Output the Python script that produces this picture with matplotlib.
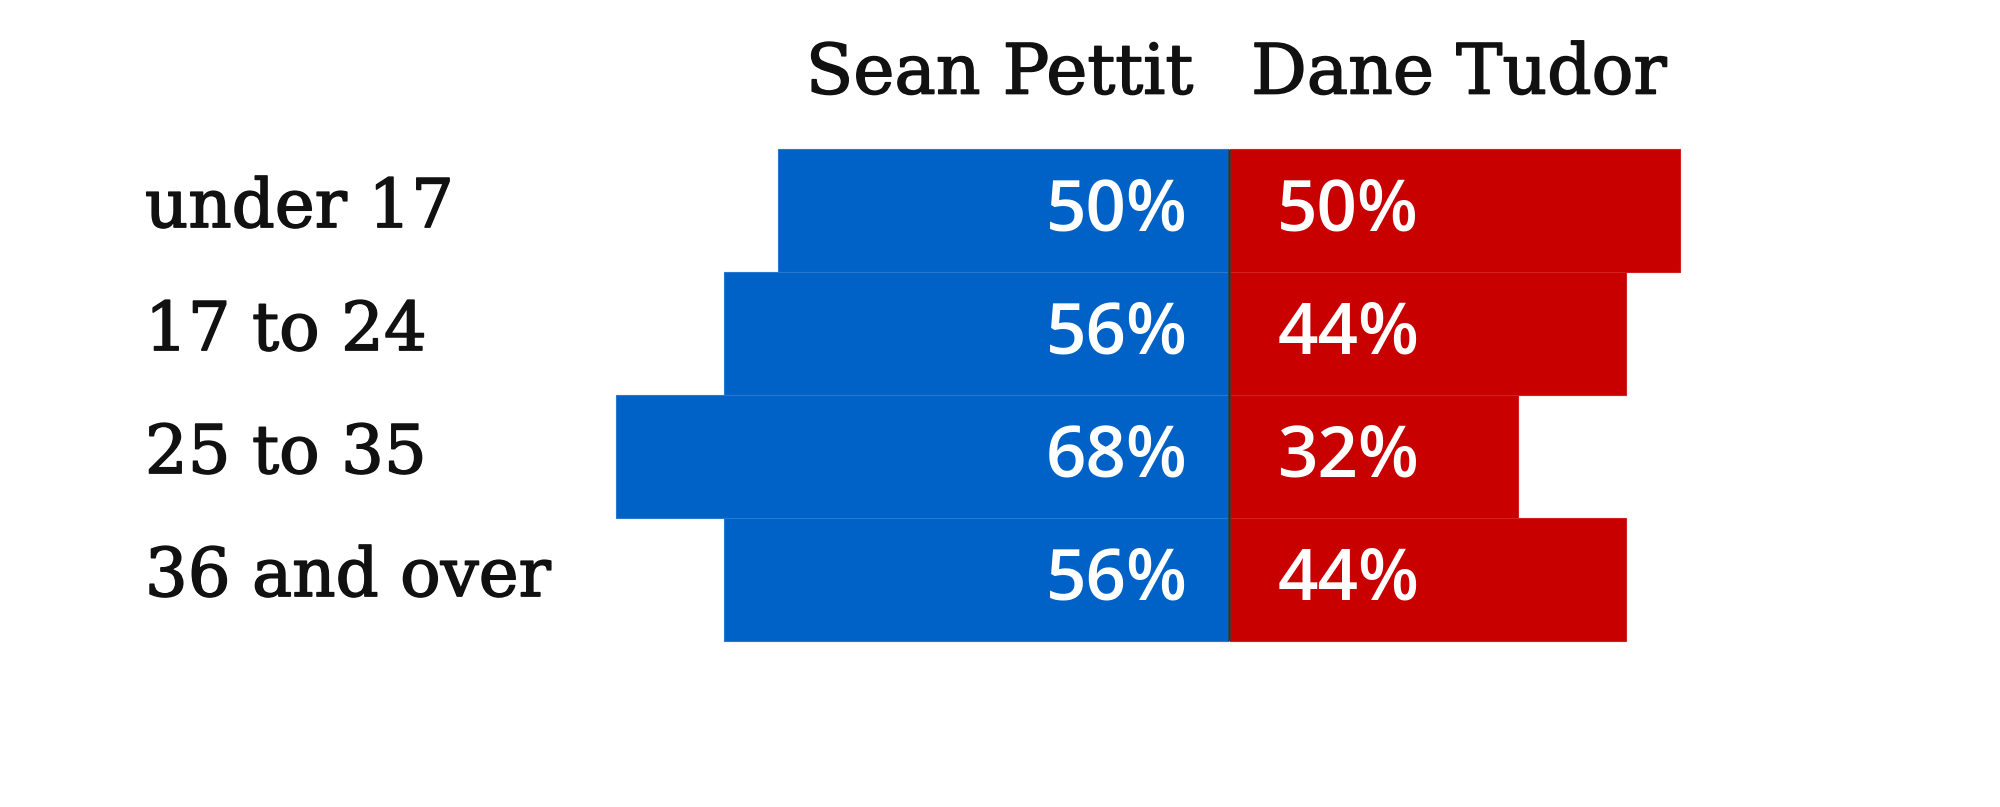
import matplotlib
matplotlib.use("Agg")
import matplotlib.pyplot as plt
import matplotlib.patheffects as pe

# data
groups = ["under 17", "17 to 24", "25 to 35", "36 and over"]
pettit = [50, 56, 68, 56]
tudor = [50, 44, 32, 44]
names = ["Sean Pettit", "Dane Tudor"]

BLUE = "#0062c6"
RED = "#c80000"
INK = "#111111"

fig = plt.figure(figsize=(20, 8.07), dpi=100, facecolor="white")
ax = fig.add_axes([0, 0, 1, 1])
ax.axis("off")

# 1% == ~9.0 px, centre line at x=1228 px
ax.set_xlim(-136.4, 85.8)
ax.set_ylim(4.846, -1.715)

ys = list(range(len(groups)))
ax.barh(ys, [-v for v in pettit], height=1.0, color=BLUE,
        edgecolor="#2a78cc", linewidth=0.8)
ax.barh(ys, tudor, height=1.0, left=0.3, color=RED,
        edgecolor="#d02020", linewidth=0.8)
ax.plot([0.15, 0.15], [-0.5, 3.5], color="#333333", lw=1.8, solid_capstyle="butt")

serif = ["DejaVu Serif"]
sans = ["Open Sans", "DejaVu Sans"]
thick = [pe.withStroke(linewidth=1.1, foreground=INK)]

for y, g, p, t in zip(ys, groups, pettit, tudor):
    ax.text(-120.3, y - 0.02, g, ha="left", va="center", fontsize=48.5,
            family=serif, color=INK, path_effects=thick)
    ax.text(-4.4, y + 0.01, f"{p}%", ha="right", va="center", fontsize=51,
            family=sans, weight="semibold", color="white")
    ax.text(5.5, y + 0.01, f"{t}%", ha="left", va="center", fontsize=51,
            family=sans, weight="semibold", color="white")

ax.text(-3.8, -1.11, names[0], ha="right", va="center", fontsize=50,
        family=serif, color=INK, path_effects=thick)
ax.text(2.6, -1.11, names[1], ha="left", va="center", fontsize=50,
        family=serif, color=INK, path_effects=thick)

fig.savefig("out.png", dpi=100, facecolor="white")
plt.close(fig)
